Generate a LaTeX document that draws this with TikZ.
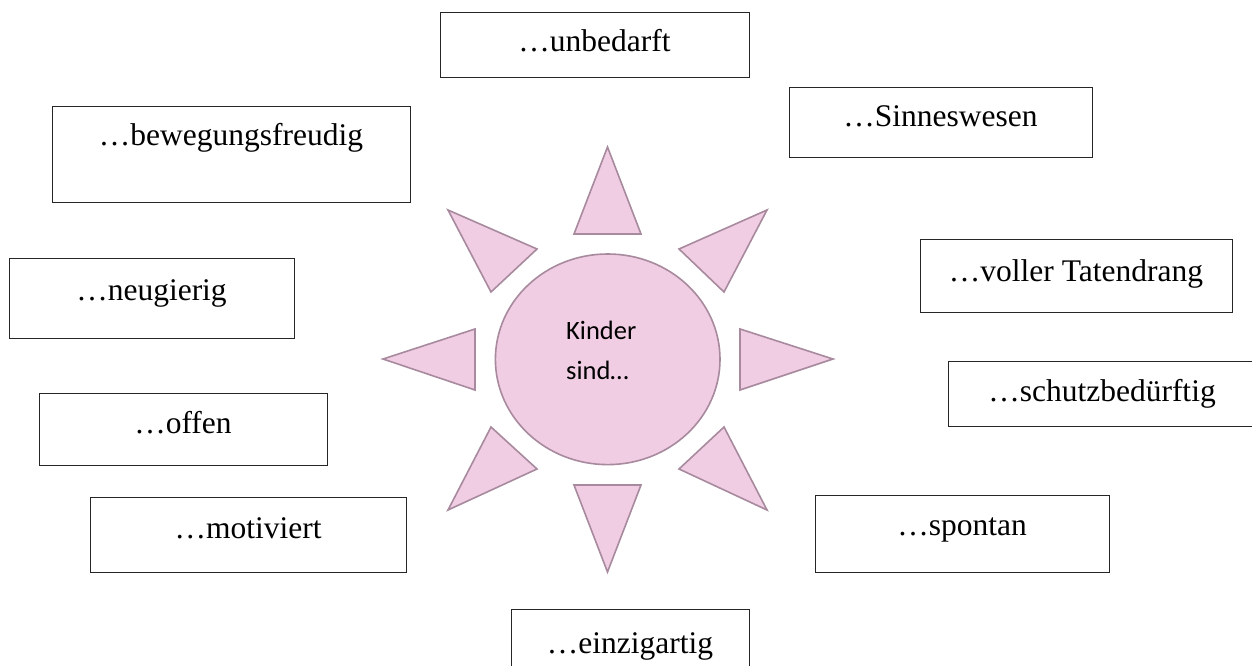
\documentclass[tikz,border=0pt]{standalone}
\usepackage{fontspec}
\setmainfont{Liberation Serif}
\newfontfamily\calfont{Carlito}
\usetikzlibrary{shapes.geometric}
\definecolor{sunfill}{RGB}{240,205,227}
\definecolor{sundraw}{RGB}{168,138,158}
\tikzset{
  box/.style={draw=black!85, line width=1.3pt, fill=white, inner sep=0pt, rectangle},
  lbl/.style={font=\fontsize{31.5}{38}\selectfont, inner sep=0pt, anchor=base},
  ray/.style={fill=sunfill, draw=sundraw, line width=1.6pt, line join=miter},
  sun/.style={ellipse, fill=sunfill, draw=sundraw, line width=1.6pt, inner sep=0pt},
  suntext/.style={font=\calfont\fontsize{26.5}{40}\selectfont, inner sep=0pt, anchor=base west}
}
\newcommand\kbox[7]{%
  \node[box, anchor=north west, minimum width={(#4-#2)*1pt}, minimum height={(#5-#3)*1pt}] (#1) at (#2,#3) {};
  \node[lbl] (#1t) at ({(#2+#4)/2},#6) {#7};}
\begin{document}
\begin{tikzpicture}[x=1pt,y=-1pt]
\useasboundingbox (0,0) rectangle (1252,666);
\clip (0,0) rectangle (1252,666);
\fill[white] (0,0) rectangle (1252,666);
% sun
\node[sun, minimum width=224.6pt, minimum height=210.6pt] (sun) at (607.7,359.3) {};
\node[suntext] (kinder) at (566,339) {Kinder};
\node[suntext] (sind) at (566,379) {sind…};
\draw[ray] (574,234) -- (641,234) -- (607.5,147) -- cycle;
\draw[ray] (574,485) -- (641,485) -- (607.5,572) -- cycle;
\draw[ray] (475,329) -- (475,390) -- (383,359) -- cycle;
\draw[ray] (740,329) -- (740,390) -- (833,359) -- cycle;
\draw[ray] (448,210) -- (537,249) -- (491,292) -- cycle;
\draw[ray] (767,210) -- (679,249) -- (724,292) -- cycle;
\draw[ray] (448,510) -- (537,469) -- (491,427) -- cycle;
\draw[ray] (767,510) -- (679,469) -- (724,427) -- cycle;
% boxes
\kbox{unb}{440}{12}{749}{77}{52}{…unbedarft}
\kbox{sin}{789}{87}{1092}{157}{127}{…Sinneswesen}
\kbox{bew}{52}{106}{410}{202}{146}{…bewegungsfreudig}
\kbox{tat}{920}{239}{1232}{312}{281}{…voller Tatendrang}
\kbox{neu}{9}{258}{294}{338}{300}{…neugierig}
\kbox{sch}{948}{361}{1256}{426}{401}{…schutzbedürftig}
\kbox{off}{39}{393}{327}{465}{433}{…offen}
\kbox{mot}{90}{497}{406}{572}{538}{…motiviert}
\kbox{spo}{815}{495}{1109}{572}{535}{…spontan}
\kbox{ein}{511}{609}{749}{675}{653}{…einzigartig}
\end{tikzpicture}
\end{document}
